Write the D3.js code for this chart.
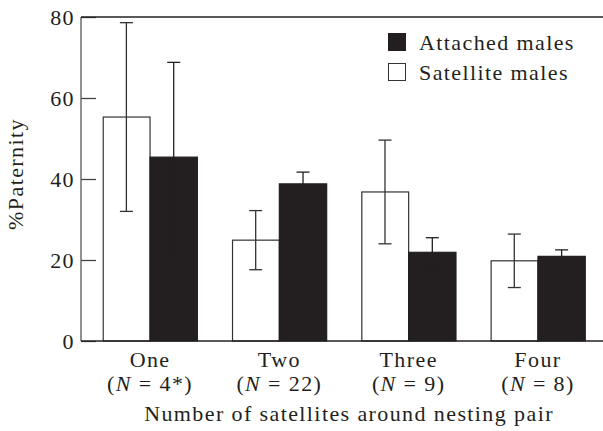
<!DOCTYPE html>
<html>
<head>
<meta charset="utf-8">
<script src="https://cdn.jsdelivr.net/npm/d3@7"></script>
<style>
  html, body { margin: 0; padding: 0; background: #fff; }
  svg { display: block; }
  text { font-family: "Liberation Serif", "Times New Roman", serif; font-size: 22px; letter-spacing: 1.4px; fill: #231f20; }
</style>
</head>
<body>
<svg id="chart" width="603" height="431"></svg>
<script>
// ---- data ----
const categories = ["One", "Two", "Three", "Four"];
const sampleSizes = ["4*", "22", "9", "8"];
const seriesNames = ["Satellite males", "Attached males"];
const satelliteValues = [55.3, 24.9, 36.8, 19.8];
const satelliteErrors = [23.3, 7.3, 12.8, 6.6];
const attachedValues = [45.4, 38.8, 21.9, 20.9];
const attachedErrors = [23.4, 2.9, 3.6, 1.6];
const yTicks = [0, 20, 40, 60, 80];
const yLabel = "%Paternity";
const xLabel = "Number of satellites around nesting pair";

(function () {
// ---- layout ----
const svg = d3.select("#chart");
const pLeft = 81, pRight = 607, pTop = 17, pBottom = 341;
const black = "#231f20";

const x0 = d3.scaleBand().domain(categories).range([pLeft, pRight]).paddingInner(0.268).paddingOuter(0.168);
const x1 = d3.scaleBand().domain(["sat", "att"]).range([0, x0.bandwidth()]);
const y = d3.scaleLinear().domain([0, 80]).range([pBottom, pTop]);

const rows = categories.map((c, i) => ({
  cat: c, n: sampleSizes[i],
  bars: [
    { key: "sat", v: satelliteValues[i], e: satelliteErrors[i] },
    { key: "att", v: attachedValues[i], e: attachedErrors[i] }
  ]
}));

// y axis (ticks inward)
const yAxis = d3.axisRight(y).tickValues(yTicks).tickSize(15).tickFormat("");
const gy = svg.append("g").attr("transform", `translate(${pLeft},0)`).call(yAxis);
gy.select(".domain").remove();
gy.selectAll(".tick line").attr("stroke", "#444").attr("stroke-width", 1.3);
svg.append("line").attr("x1", pLeft).attr("x2", pLeft).attr("y1", y(80)).attr("y2", y(0))
  .attr("stroke", "#555").attr("stroke-width", 1.3);
// tick labels
svg.append("g").selectAll("text").data(yTicks).join("text")
  .attr("x", pLeft - 6).attr("y", d => y(d)).attr("dy", "0.35em")
  .attr("text-anchor", "end").text(d => d);

// top frame line
svg.append("line").attr("x1", pLeft).attr("x2", 603).attr("y1", y(80)).attr("y2", y(80))
  .attr("stroke", "#222").attr("stroke-width", 1.3);

// bars
const groups = svg.append("g").selectAll("g").data(rows).join("g")
  .attr("transform", d => `translate(${x0(d.cat)},0)`);
groups.selectAll("rect").data(d => d.bars).join("rect")
  .attr("x", d => x1(d.key) + (d.key === "sat" ? 0.5 : 0))
  .attr("y", d => y(d.v))
  .attr("width", d => x1.bandwidth() - (d.key === "sat" ? 0.5 : 0))
  .attr("height", d => y(0) - y(d.v))
  .attr("fill", d => d.key === "att" ? black : "#fff")
  .attr("stroke", d => d.key === "att" ? black : "#333")
  .attr("stroke-width", 1.2);

// error bars
const cap = 6.5;
groups.selectAll("g.err").data(d => d.bars).join("g").attr("class", "err")
  .each(function (d) {
    const g = d3.select(this);
    const cx = x1(d.key) + x1.bandwidth() / 2;
    const col = d.key === "att" ? black : "#333";
    g.append("line").attr("x1", cx).attr("x2", cx).attr("y1", y(d.v + d.e)).attr("y2", y(d.v - d.e))
      .attr("stroke", col).attr("stroke-width", 1.3);
    g.append("line").attr("x1", cx - cap).attr("x2", cx + cap).attr("y1", y(d.v + d.e)).attr("y2", y(d.v + d.e))
      .attr("stroke", col).attr("stroke-width", 1.3);
    g.append("line").attr("x1", cx - cap).attr("x2", cx + cap).attr("y1", y(d.v - d.e)).attr("y2", y(d.v - d.e))
      .attr("stroke", col).attr("stroke-width", 1.3);
  });

// bottom axis line
svg.append("line").attr("x1", pLeft).attr("x2", 603).attr("y1", y(0)).attr("y2", y(0))
  .attr("stroke", "#222").attr("stroke-width", 1.4);

// x category labels
const xl = svg.append("g").selectAll("g").data(rows).join("g")
  .attr("transform", d => `translate(${x0(d.cat) + x0.bandwidth() / 2},0)`);
xl.append("text").attr("y", 367).attr("text-anchor", "middle").text(d => d.cat);
xl.append("text").attr("y", 391).attr("text-anchor", "middle")
  .each(function (d) {
    const t = d3.select(this);
    t.append("tspan").text("(");
    t.append("tspan").attr("font-style", "italic").text("N");
    t.append("tspan").text(" = " + d.n + ")");
  });

// axis titles
svg.append("text").attr("x", 349).attr("y", 421).attr("text-anchor", "middle").text(xLabel);
svg.append("text").attr("transform", "translate(23,174) rotate(-90)").attr("text-anchor", "middle").text(yLabel);

// legend
const legend = [
  { name: seriesNames[1], fill: black, stroke: black },
  { name: seriesNames[0], fill: "#fff", stroke: "#333" }
];
const lg = svg.append("g").selectAll("g").data(legend).join("g")
  .attr("transform", (d, i) => `translate(388,${33 + i * 30})`);
lg.append("rect").attr("x", 0.5).attr("y", 0.5).attr("width", 17).attr("height", 17)
  .attr("fill", d => d.fill).attr("stroke", d => d.stroke).attr("stroke-width", 1);
lg.append("text").attr("x", 31).attr("y", 17).text(d => d.name);
})();
</script>
</body>
</html>
